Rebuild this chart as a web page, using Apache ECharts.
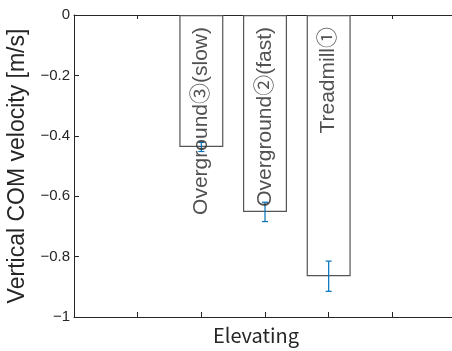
<!DOCTYPE html>
<html>
<head>
<meta charset="utf-8">
<script src="https://cdn.jsdelivr.net/npm/echarts@6/dist/echarts.min.js"></script>
<style>
html, body { margin: 0; padding: 0; background: #fff; }
#main { width: 452px; height: 351px; }
</style>
</head>
<body>
<div id="main"></div>
<script>
// conditions, their x position on the axis, mean value and error
var labels = ['Overground③(slow)', 'Overground②(fast)', 'Treadmill①'];
var xpos = [2, 3, 4];
var means = [-0.437, -0.652, -0.865];
var errs = [0.015, 0.032, 0.05];

var font = '"Noto Sans CJK JP", "Noto Sans", sans-serif';
var sans = '"Liberation Sans", Arial, "Noto Sans CJK JP", sans-serif';
var ink = '#262626';

var barData = [];
var errData = [];
var labData = [];
for (var i = 0; i < labels.length; i++) {
    barData.push([xpos[i], means[i]]);
    errData.push([xpos[i], means[i] - errs[i], means[i] + errs[i]]);
    labData.push([xpos[i], 0]);
}

var myChart = echarts.init(document.getElementById('main'));
var option = {
    animation: false,
    grid: { left: 74, right: -4, top: 15, bottom: 34, outerBoundsMode: 'none', containLabel: false },
    xAxis: [
        {
            type: 'value', min: 0, max: 6, interval: 1,
            name: 'Elevating', nameLocation: 'middle', nameGap: 8,
            nameTextStyle: { fontFamily: font, fontSize: 20, color: ink, padding: [0, 18, 0, 0] },
            axisLine: { show: true, onZero: false, lineStyle: { color: ink, width: 1 } },
            axisTick: { show: true, inside: true, length: 5, lineStyle: { color: ink } },
            axisLabel: { show: false },
            splitLine: { show: false }
        },
        {
            type: 'value', min: 0, max: 6, interval: 1, position: 'top',
            axisLine: { show: true, onZero: false, lineStyle: { color: ink, width: 1 } },
            axisTick: { show: true, inside: true, length: 4, lineStyle: { color: ink } },
            axisLabel: { show: false },
            splitLine: { show: false }
        }
    ],
    yAxis: {
        type: 'value', min: -1, max: 0, interval: 0.2,
        name: 'Vertical COM velocity [m/s]', nameLocation: 'middle', nameGap: 29,
        nameTextStyle: { fontFamily: sans, fontSize: 23, color: ink },
        axisLine: { show: true, onZero: false, lineStyle: { color: ink, width: 1 } },
        axisTick: { show: true, inside: true, length: 5, lineStyle: { color: ink } },
        axisLabel: {
            fontFamily: sans, fontSize: 15, color: ink, margin: 4,
            formatter: function (v) {
                var r = Math.round(v * 10) / 10;
                if (r === 0) return '0';
                if (r === -1) return '\u22121';
                return '\u2212' + Math.abs(r).toFixed(1);
            }
        },
        splitLine: { show: false }
    },
    series: [
        {
            type: 'bar',
            data: barData,
            barWidth: 44,
            itemStyle: { color: '#ffffff', borderColor: '#555555', borderWidth: 1.2 },
            z: 2
        },
        {
            type: 'custom',
            data: errData,
            z: 3,
            renderItem: function (params, api) {
                var x = api.value(0);
                var lo = api.coord([x, api.value(1)]);
                var hi = api.coord([x, api.value(2)]);
                var cw = 3;
                var st = { stroke: '#0072BD', lineWidth: 1.2 };
                return {
                    type: 'group',
                    children: [
                        { type: 'line', shape: { x1: lo[0], y1: lo[1], x2: hi[0], y2: hi[1] }, style: st },
                        { type: 'line', shape: { x1: lo[0] - cw, y1: lo[1], x2: lo[0] + cw, y2: lo[1] }, style: st },
                        { type: 'line', shape: { x1: hi[0] - cw, y1: hi[1], x2: hi[0] + cw, y2: hi[1] }, style: st }
                    ]
                };
            }
        },
        {
            type: 'scatter',
            data: labData,
            symbolSize: 0,
            z: 5,
            label: {
                show: true,
                position: 'bottom',
                distance: 12,
                rotate: 90,
                align: 'right',
                verticalAlign: 'middle',
                fontFamily: sans,
                fontSize: 21,
                color: ink,
                formatter: function (p) { return labels[p.dataIndex]; }
            }
        }
    ]
};
myChart.setOption(option);
</script>
</body>
</html>
